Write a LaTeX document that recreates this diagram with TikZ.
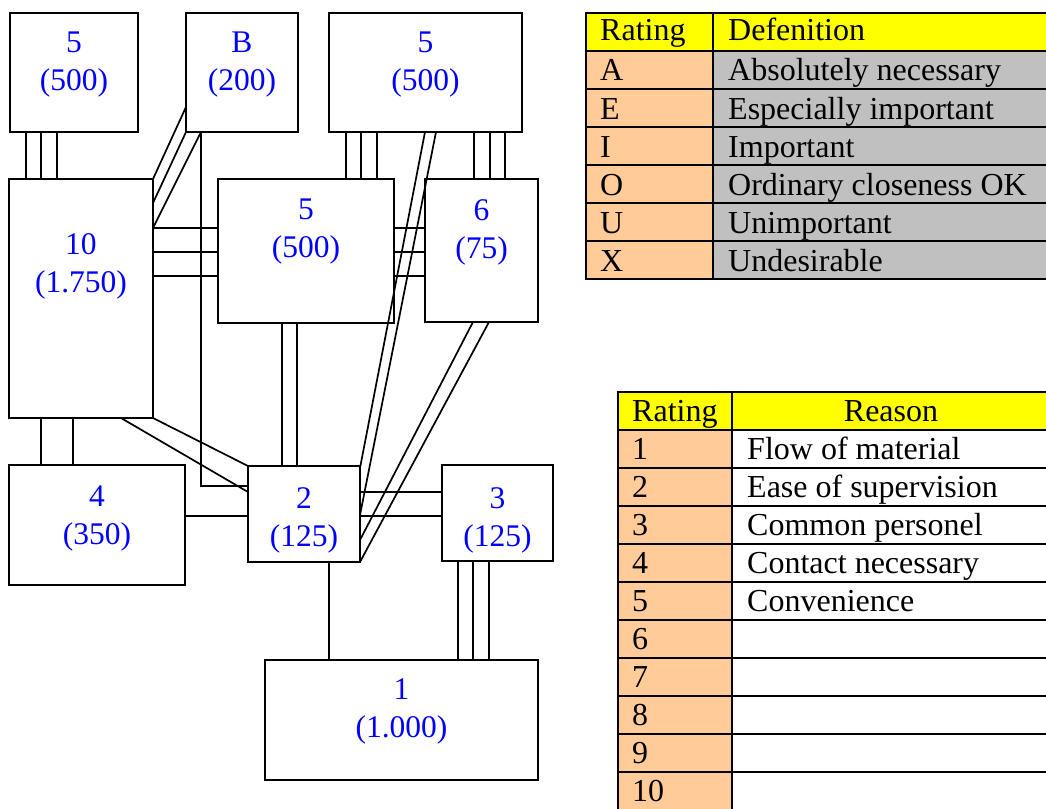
\documentclass[tikz,border=0pt]{standalone}
\usepackage{fontspec}
\setmainfont{Liberation Serif}
\usetikzlibrary{calc}
\definecolor{roomblue}{RGB}{0,0,255}
\definecolor{hdryellow}{RGB}{255,255,0}
\definecolor{peach}{RGB}{255,204,153}
\definecolor{cellgray}{RGB}{192,192,192}

\begin{document}
\begin{tikzpicture}[x=1pt,y=-1pt,
  room/.style={draw=black, line width=2pt, inner sep=0pt, outer sep=0pt, anchor=north west},
  roomtext/.style={text=roomblue, font=\fontsize{31.5}{38}\selectfont, align=center, anchor=north, inner sep=0pt},
  link/.style={line width=1.7pt},
  celltext/.style={font=\fontsize{32}{38}\selectfont, anchor=base west, inner sep=0pt},
  gridline/.style={line width=2.4pt}
]
\useasboundingbox (0,0) rectangle (1046,808);

% ---- departments ----
\node[room, minimum width=128pt, minimum height=119pt] (r5a) at (10,13) {};
\node[room, minimum width=112pt, minimum height=119pt] (rB) at (186,13) {};
\node[room, minimum width=193pt, minimum height=119pt] (r5c) at (329,13) {};
\node[room, minimum width=144pt, minimum height=239pt] (r10) at (9,179) {};
\node[room, minimum width=176pt, minimum height=144pt] (r5b) at (218,179) {};
\node[room, minimum width=113pt, minimum height=143pt] (r6) at (425,179) {};
\node[room, minimum width=176pt, minimum height=120pt] (r4) at (9,465) {};
\node[room, line width=2.6pt, minimum width=112pt, minimum height=96pt] (r2) at (248,466) {};
\node[room, minimum width=111pt, minimum height=96pt] (r3) at (442,465) {};
\node[room, minimum width=273pt, minimum height=120pt] (r1) at (265,660) {};

\node[roomtext] (l5a) at ($(r5a.north)+(0,19)$) {5\\(500)};
\node[roomtext] (lB) at ($(rB.north)+(0,19)$) {B\\(200)};
\node[roomtext] (l5c) at ($(r5c.north)+(0,19)$) {5\\(500)};
\node[roomtext] (l10) at ($(r10.north)+(0,54)$) {10\\(1.750)};
\node[roomtext] (l5b) at ($(r5b.north)+(0,20)$) {5\\(500)};
\node[roomtext] (l6) at ($(r6.north)+(0,20)$) {6\\(75)};
\node[roomtext] (l4) at ($(r4.north)+(0,21)$) {4\\(350)};
\node[roomtext] (l2) at ($(r2.north)+(0,21)$) {2\\(125)};
\node[roomtext] (l3) at ($(r3.north)+(0,22)$) {3\\(125)};
\node[roomtext] (l1) at ($(r1.north)+(0,18)$) {1\\(1.000)};

% ---- relationship lines ----
\foreach \x in {26,41,57} \draw[link] (\x,0 |- r5a.south) -- (\x,0 |- r10.north);
\draw[link] (rB.west |- 0,107) -- (r10.north east);
\draw[link] (rB.south west) -- (r10.east |- 0,203);
\draw[link] (201,0 |- rB.south) -- (r10.east |- 0,228);
\draw[link] (201,0 |- rB.south) |- (r2.west |- 0,486);
\foreach \y in {228,252,276} \draw[link] (r10.east |- 0,\y) -- (r5b.west |- 0,\y);
\foreach \x in {346,361,377} \draw[link] (\x,0 |- r5c.south) -- (\x,0 |- r5b.north);
\foreach \x in {474,490,505} \draw[link] (\x,0 |- r5c.south) -- (\x,0 |- r6.north);
\foreach \y in {228,252,276} \draw[link] (r5b.east |- 0,\y) -- (r6.west |- 0,\y);
\draw[link] (425,0 |- r5c.south) -- (r2.east |- 0,468);
\draw[link] (436,0 |- r5c.south) -- (r2.east |- 0,515);
\draw[link] (473,0 |- r6.south) -- (r2.east |- 0,540);
\draw[link] (489,0 |- r6.south) -- (r2.south east);
\draw[link] (r10.south east) -- (r2.north west);
\draw[link] (121,0 |- r10.south) -- (r2.west |- 0,492);
\foreach \x in {41,73} \draw[link] (\x,0 |- r10.south) -- (\x,0 |- r4.north);
\draw[link] (r4.east |- 0,516) -- (r2.west |- 0,516);
\foreach \x in {282,297} \draw[link] (\x,0 |- r5b.south) -- (\x,0 |- r2.north);
\foreach \y in {492,516} \draw[link] (r2.east |- 0,\y) -- (r3.west |- 0,\y);
\draw[link] (329,0 |- r2.south) -- (329,0 |- r1.north);
\foreach \x in {458,473,489} \draw[link] (\x,0 |- r3.south) -- (\x,0 |- r1.north);

% ---- closeness rating table ----
\fill[hdryellow] (586,13) rectangle (1050,51);
\fill[peach] (586,51) rectangle (713,279);
\fill[cellgray] (713,51) rectangle (1050,279);
\draw[gridline] (1050,13) -- (586,13) -- (586,279) -- (1050,279);
\foreach \y in {51,89,127,165,203,241} \draw[gridline] (586,\y) -- (1050,\y);
\draw[gridline] (713,13) -- (713,279);
\node[celltext] (dh1) at (600,41) {Rating};
\node[celltext] (dh2) at (728,41) {Defenition};
\foreach \c/\t [count=\i] in {A/Absolutely necessary, E/Especially important, I/Important, O/Ordinary closeness OK, U/Unimportant, X/Undesirable} {
  \node[celltext] (dc\i) at (600,{51+38*\i-8}) {\c};
  \node[celltext] (dt\i) at (728,{51+38*\i-8}) {\t};
}

% ---- reason table ----
\fill[hdryellow] (618,392) rectangle (1050,430);
\fill[peach] (618,430) rectangle (732,812);
\draw[gridline] (1050,392) -- (618,392) -- (618,812);
\foreach \k in {0,...,9} \draw[gridline] (618,{430+38*\k}) -- (1050,{430+38*\k});
\draw[gridline] (732,392) -- (732,812);
\node[celltext] (rh1) at (632,421) {Rating};
\node[celltext, anchor=base] (rh2) at (891,421) {Reason};
\foreach \i in {1,...,10} \node[celltext] (rn\i) at (632,{430+38*\i-9}) {\i};
\foreach \t [count=\i] in {Flow of material, Ease of supervision, Common personel, Contact necessary, Convenience}
  \node[celltext] (rt\i) at (747,{430+38*\i-9}) {\t};
\end{tikzpicture}
\end{document}
